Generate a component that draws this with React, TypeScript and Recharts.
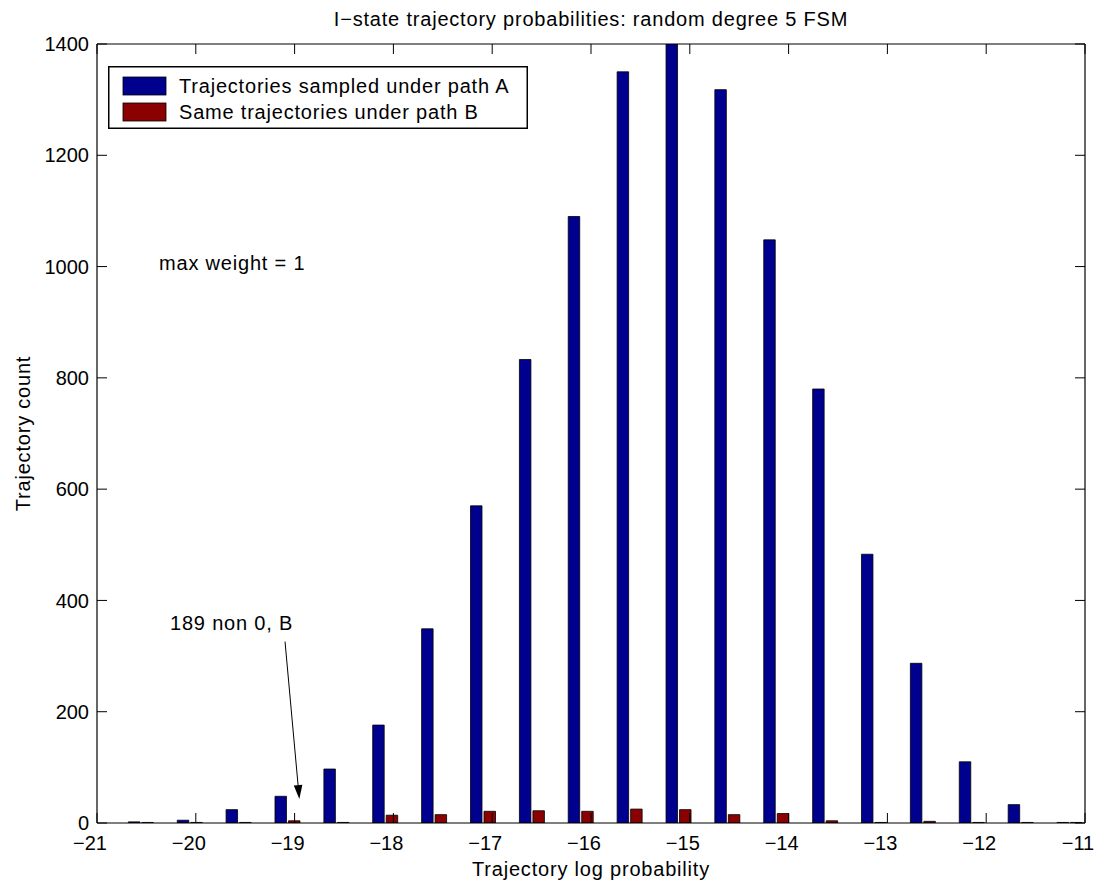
import React from 'react';
import { BarChart, Bar, XAxis, YAxis, Legend, ReferenceLine, ReferenceDot, Label } from 'recharts';

// Histogram bin centres (log probability)
const binCenters = [
  -20.557, -20.062, -19.568, -19.073, -18.578, -18.084, -17.589, -17.094, -16.599, -16.105,
  -15.61, -15.115, -14.621, -14.126, -13.631, -13.137, -12.642, -12.147, -11.652, -11.158,
];
// Trajectory counts per bin
const pathACounts = [2, 5, 24, 48, 97, 176, 349, 570, 833, 1090, 1350, 1400, 1318, 1048, 780, 483, 287, 110, 33, 1];
const pathBCounts = [1, 1, 1, 4, 1, 14, 15, 21, 22, 21, 25, 24, 15, 17, 4, 1, 3, 1, 1, 1];

const xTicks = [-21, -20, -19, -18, -17, -16, -15, -14, -13, -12, -11];
const yTicks = [0, 200, 400, 600, 800, 1000, 1200, 1400];

const seriesA = 'Trajectories sampled under path A';
const seriesB = 'Same trajectories under path B';
const titleText = 'I\u2212state trajectory probabilities: random degree 5 FSM';
const xLabelText = 'Trajectory log probability';
const yLabelText = 'Trajectory count';
const noteWeight = 'max weight = 1';
const noteArrow = '189 non 0, B';

const seriesOrder = ['a', 'b'];

const data = binCenters.map((x, i) => ({ x, a: pathACounts[i], b: pathBCounts[i] }));

const FONT = '"Liberation Sans", Arial, Helvetica, sans-serif';
const BLUE = '#00008F';
const RED = '#8B0000';
const textStyle = { fontFamily: FONT, fontSize: 20, fill: '#000', letterSpacing: 0.8 };
const tickStyle = { fontFamily: FONT, fontSize: 20, fill: '#000' };

const fmt = (v: number) => (v < 0 ? '\u2212' + Math.abs(v) : String(v));

const TitleContent = (props: any) => {
  const vb = props.viewBox || {};
  return (
    <text x={vb.x + vb.width / 2} y={vb.y + vb.height - 18} textAnchor="middle" style={textStyle}>
      {titleText}
    </text>
  );
};

const XLabelContent = (props: any) => {
  const vb = props.viewBox || {};
  return (
    <text x={vb.x + vb.width / 2} y={vb.y + 53} textAnchor="middle" style={textStyle}>
      {xLabelText}
    </text>
  );
};

const YLabelContent = (props: any) => {
  const vb = props.viewBox || {};
  const cx = vb.x + 30;
  const cy = vb.y + vb.height / 2;
  return (
    <text x={cx} y={cy} textAnchor="middle" transform={`rotate(-90, ${cx}, ${cy})`} style={textStyle}>
      {yLabelText}
    </text>
  );
};

const LegendBox = (props: any) => {
  const payload = [...(props.payload || [])].sort(
    (p: any, q: any) => seriesOrder.indexOf(p.dataKey) - seriesOrder.indexOf(q.dataKey),
  );
  return (
    <svg width={420} height={63} style={{ display: 'block' }}>
      <rect x={0.75} y={0.75} width={418.5} height={61.5} fill="#fff" stroke="#000" strokeWidth={1.5} />
      {payload.map((entry: any, i: number) => (
        <g key={i}>
          <rect x={15} y={11 + i * 26} width={43} height={18} fill={entry.color} stroke="#000" strokeWidth={0.8} />
          <text x={71} y={27 + i * 26} style={textStyle}>
            {entry.value}
          </text>
        </g>
      ))}
    </svg>
  );
};

const ArrowShape = (props: any) => {
  const { x1, y1, x2, y2 } = props;
  const dx = x2 - x1;
  const dy = y2 - y1;
  const len = Math.sqrt(dx * dx + dy * dy) || 1;
  const ux = dx / len;
  const uy = dy / len;
  const headLen = 14;
  const half = 4.3;
  const bx = x2 - ux * headLen;
  const by = y2 - uy * headLen;
  const pts = `${x2},${y2} ${bx - uy * half},${by + ux * half} ${bx + uy * half},${by - ux * half}`;
  return (
    <g>
      <line x1={x1} y1={y1} x2={bx} y2={by} stroke="#000" strokeWidth={1} />
      <polygon points={pts} fill="#000" />
    </g>
  );
};

const noteShape = (text: string) => (props: any) => (
  <text x={props.cx} y={props.cy} textAnchor="start" style={textStyle}>
    {text}
  </text>
);

export default function App() {
  return (
    <div style={{ position: 'absolute', left: 0, top: 0, background: '#fff' }}>
      <BarChart
        width={1096}
        height={883}
        data={data}
        margin={{ top: 0, right: 0, bottom: 0, left: 0 }}
        barSize={11.5}
        barGap={2}
      >
        <XAxis
          xAxisId="bottom"
          dataKey="x"
          type="number"
          orientation="bottom"
          domain={[-21, -11]}
          ticks={xTicks}
          allowDataOverflow
          height={60}
          interval={0}
          tickFormatter={fmt}
          axisLine={{ stroke: '#000', strokeWidth: 1.2 }}
          tickLine={{ stroke: '#000', strokeWidth: 1 }}
          tickSize={-10}
          tickMargin={23}
          tick={{ ...tickStyle, dx: -7 }}
        >
          <Label content={XLabelContent} />
        </XAxis>
        <XAxis
          xAxisId="top"
          dataKey="x"
          type="number"
          orientation="top"
          domain={[-21, -11]}
          ticks={xTicks}
          allowDataOverflow
          height={44}
          interval={0}
          tickFormatter={() => ''}
          axisLine={{ stroke: '#000', strokeWidth: 1.2 }}
          tickLine={{ stroke: '#000', strokeWidth: 1 }}
          tickSize={-10}
          tick={tickStyle}
        >
          <Label content={TitleContent} />
        </XAxis>
        <YAxis
          yAxisId="left"
          orientation="left"
          type="number"
          domain={[0, 1400]}
          ticks={yTicks}
          allowDataOverflow
          width={97}
          interval={0}
          axisLine={{ stroke: '#000', strokeWidth: 1.2 }}
          tickLine={{ stroke: '#000', strokeWidth: 1 }}
          tickSize={-10}
          tickMargin={18}
          tick={tickStyle}
        >
          <Label content={YLabelContent} />
        </YAxis>
        <YAxis
          yAxisId="right"
          orientation="right"
          type="number"
          domain={[0, 1400]}
          ticks={yTicks}
          allowDataOverflow
          width={11}
          interval={0}
          tickFormatter={() => ''}
          axisLine={{ stroke: '#000', strokeWidth: 1.2 }}
          tickLine={{ stroke: '#000', strokeWidth: 1 }}
          tickSize={-10}
          tick={tickStyle}
        />
        <Legend
          layout="horizontal"
          verticalAlign="middle"
          align="center"
          content={LegendBox}
          wrapperStyle={{ position: 'absolute', left: 108, top: 66, width: 420, height: 63 }}
        />
        <Bar
          dataKey="a"
          name={seriesA}
          xAxisId="bottom"
          yAxisId="left"
          fill={BLUE}
          stroke="#000"
          strokeWidth={0.8}
          isAnimationActive={false}
        />
        <Bar
          dataKey="b"
          name={seriesB}
          xAxisId="bottom"
          yAxisId="left"
          fill={RED}
          stroke="#000"
          strokeWidth={0.8}
          isAnimationActive={false}
        />
        <ReferenceLine
          xAxisId="bottom"
          yAxisId="left"
          segment={[{ x: -19.097, y: 326 }, { x: -18.952, y: 43 }]}
          shape={ArrowShape}
        />
        <ReferenceDot xAxisId="bottom" yAxisId="left" x={-20.261} y={347} r={0} shape={noteShape(noteArrow)} />
        <ReferenceDot xAxisId="bottom" yAxisId="left" x={-20.372} y={994} r={0} shape={noteShape(noteWeight)} />
      </BarChart>
    </div>
  );
}
